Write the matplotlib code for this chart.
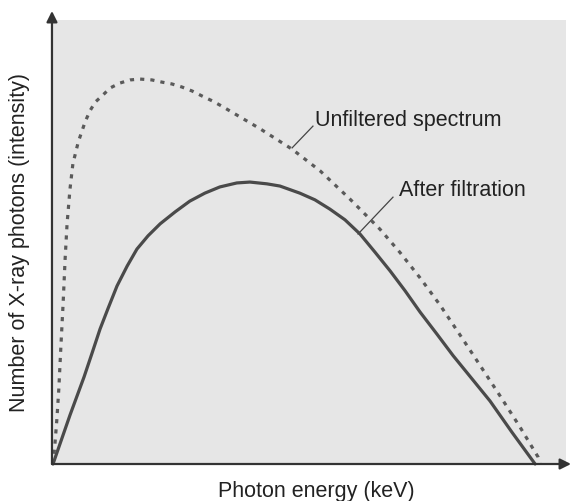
import matplotlib
matplotlib.use("Agg")
import matplotlib.pyplot as plt

# Photon energy (arbitrary units, 0 = origin, 100 = maximum tube voltage)
# and relative number of photons for the two spectra.
unfiltered_energy = [0, 0.4, 0.8, 1.2, 1.6, 2.1, 2.5, 2.9, 3.5, 4.1, 5.2, 6.6,
                     7.6, 8.7, 10.1, 11.8, 13.8, 15.9, 17.9, 20.4, 22.5, 24.5,
                     26.6, 28.7, 30.7, 32.8, 34.8, 42.7, 49.3, 55.1, 61.2, 67.4,
                     71.5, 75.7, 79.8, 83.9, 88.0, 92.2, 96.3, 100.0, 100.4]
unfiltered_intensity = [0, 4.5, 10.1, 16.9, 25.9, 36.5, 46.2, 54.1, 61.9, 67.6,
                        72.5, 77.0, 79.5, 81.5, 82.9, 84.7, 85.8, 86.5, 86.7,
                        86.5, 86.0, 85.6, 84.9, 84.0, 82.9, 81.8, 80.6, 75.5,
                        70.9, 66.0, 59.7, 52.9, 47.7, 41.9, 35.8, 29.1, 22.3,
                        15.3, 8.3, 1.6, 0]

filtered_energy = [0, 3.5, 6.4, 8.0, 9.7, 11.3, 13.2, 15.3, 17.3, 19.6, 22.1,
                   25.2, 28.2, 31.3, 34.4, 37.9, 40.6, 44.1, 46.8, 50.9, 54.0,
                   57.1, 60.2, 63.3, 66.4, 69.5, 72.6, 75.7, 79.2, 82.5, 86.6,
                   90.1, 94.6, 99.4]
filtered_intensity = [0, 11.0, 19.6, 24.8, 30.4, 34.9, 40.1, 44.6, 48.4, 51.4,
                      54.1, 56.8, 59.2, 61.0, 62.4, 63.3, 63.5, 63.1, 62.6,
                      61.0, 59.5, 57.4, 55.0, 51.8, 47.7, 43.5, 39.0, 34.2,
                      29.2, 24.4, 18.9, 14.2, 7.2, 0]

label_unfiltered = "Unfiltered spectrum"
label_filtered = "After filtration"
x_title = "Photon energy (keV)"
y_title = "Number of X-ray photons (intensity)"

plt.rcParams["font.family"] = ["Liberation Sans", "DejaVu Sans"]
W, H = 572, 502
fig = plt.figure(figsize=(W / 100, H / 100), dpi=100)
fig.patch.set_facecolor("white")

# plot panel (grey box)
left, right, top, bottom = 53, 566, 21, 465
ax = fig.add_axes([left / W, 1 - bottom / H, (right - left) / W, (bottom - top) / H])
ax.set_facecolor("#e6e6e6")
ax.set_xlim(0, (right - left) / 4.85)
ax.set_ylim(0, 100)
for s in ax.spines.values():
    s.set_visible(False)
ax.set_xticks([])
ax.set_yticks([])

ax.plot(unfiltered_energy, unfiltered_intensity, color="#5a5a5a", lw=2.3,
        linestyle=(0, (1.3, 1.9)), dash_capstyle="butt", solid_joinstyle="round",
        clip_on=False, zorder=3)
ax.plot(filtered_energy, filtered_intensity, color="#4a4a4a", lw=2.3,
        solid_capstyle="round", solid_joinstyle="round", clip_on=False, zorder=3)

# leader lines and curve labels
ax.plot([49.3, 53.6], [71.2, 76.1], color="#444444", lw=0.9)
ax.text(54.0, 77.7, label_unfiltered, fontsize=15.5, color="#222222",
        ha="left", va="center")
ax.plot([62.9, 70.1], [51.8, 60.1], color="#444444", lw=0.9)
ax.text(71.3, 61.9, label_filtered, fontsize=15.5, color="#222222",
        ha="left", va="center")

# axes with arrow heads
arrow = dict(arrowstyle="-|>", color="#333333", lw=1.6, mutation_scale=16,
             shrinkA=0, shrinkB=0)
ax.annotate("", xy=(-0.002, (bottom - 12) / (bottom - top)), xytext=(-0.002, 0),
            xycoords="axes fraction", arrowprops=arrow, annotation_clip=False)
ax.annotate("", xy=((571 - left) / (right - left), 0), xytext=(-0.002, 0),
            xycoords="axes fraction", arrowprops=arrow, annotation_clip=False)

fig.text(316.5 / W, 1 - 492 / H, x_title, fontsize=15.5, color="#222222",
         ha="center", va="center")
fig.text(20 / W, 1 - 242 / H, y_title, fontsize=15.5, color="#222222",
         ha="center", va="center", rotation=90)

fig.savefig("out.png", dpi=100)
